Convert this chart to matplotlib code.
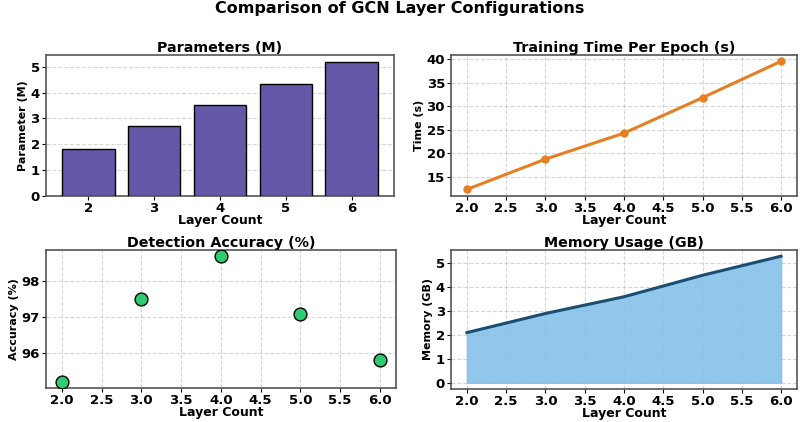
import matplotlib.pyplot as plt
from matplotlib.ticker import MultipleLocator

# data
layers = [2, 3, 4, 5, 6]
params_m = [1.8, 2.7, 3.5, 4.35, 5.2]
train_time = [12.4, 18.8, 24.3, 31.8, 39.5]
accuracy = [95.2, 97.5, 98.7, 97.1, 95.8]
memory_gb = [2.1, 2.9, 3.6, 4.5, 5.3]

plt.rcParams['font.family'] = 'DejaVu Sans'
plt.rcParams['font.weight'] = 'bold'
plt.rcParams['axes.titleweight'] = 'bold'
plt.rcParams['axes.labelweight'] = 'bold'

fig = plt.figure(figsize=(8, 4.22), dpi=100)
ax1 = fig.add_axes([0.0575, 0.536, 0.435, 0.334])
ax2 = fig.add_axes([0.564, 0.536, 0.432, 0.334])
ax3 = fig.add_axes([0.0575, 0.080, 0.437, 0.328])
ax4 = fig.add_axes([0.564, 0.078, 0.432, 0.330])

fig.text(0.5, 0.981, 'Comparison of GCN Layer Configurations', fontsize=11.5,
         fontweight='bold', ha='center', va='center')

# parameters
ax1.bar(layers, params_m, color='#6459a8', edgecolor='black', linewidth=1, zorder=3)
ax1.set_title('Parameters (M)', fontsize=10.3, pad=2)
ax1.set_ylabel('Parameter (M)', fontsize=8, labelpad=2)
ax1.yaxis.set_major_locator(MultipleLocator(1))
ax1.grid(axis='y', linestyle='--', alpha=0.5, zorder=0)

# training time
ax2.plot(layers, train_time, color='#e67e22', marker='o', markersize=5, linewidth=2.2, zorder=3)
ax2.set_title('Training Time Per Epoch (s)', fontsize=10.3, pad=2)
ax2.set_ylabel('Time (s)', fontsize=8, labelpad=2)
ax2.yaxis.set_major_locator(MultipleLocator(5))
ax2.grid(True, linestyle='--', alpha=0.5)

# accuracy
ax3.scatter(layers, accuracy, color='#2ecc71', edgecolor='black', s=85, linewidth=1, zorder=3)
ax3.set_title('Detection Accuracy (%)', fontsize=10.3, pad=2)
ax3.set_ylabel('Accuracy (%)', fontsize=8, labelpad=2)
ax3.yaxis.set_major_locator(MultipleLocator(1))
ax3.grid(True, linestyle='--', alpha=0.5)

# memory
ax4.fill_between(layers, memory_gb, color='#85c1e9', alpha=0.9, zorder=2)
ax4.plot(layers, memory_gb, color='#1a4f72', linewidth=2.2, zorder=3)
ax4.set_title('Memory Usage (GB)', fontsize=10.3, pad=2)
ax4.set_ylabel('Memory (GB)', fontsize=8, labelpad=2)
ax4.yaxis.set_major_locator(MultipleLocator(1))
ax4.grid(True, linestyle='--', alpha=0.5)

for ax in [ax2, ax3, ax4]:
    ax.xaxis.set_major_locator(MultipleLocator(0.5))

for ax in [ax1, ax2, ax3, ax4]:
    ax.set_xlabel('Layer Count', fontsize=9, labelpad=-1)
    ax.tick_params(labelsize=9.5, length=3, pad=1.5)
    for sp in ax.spines.values():
        sp.set_color('#555555')
        sp.set_linewidth(1.2)

plt.savefig('out.png', dpi=100)
